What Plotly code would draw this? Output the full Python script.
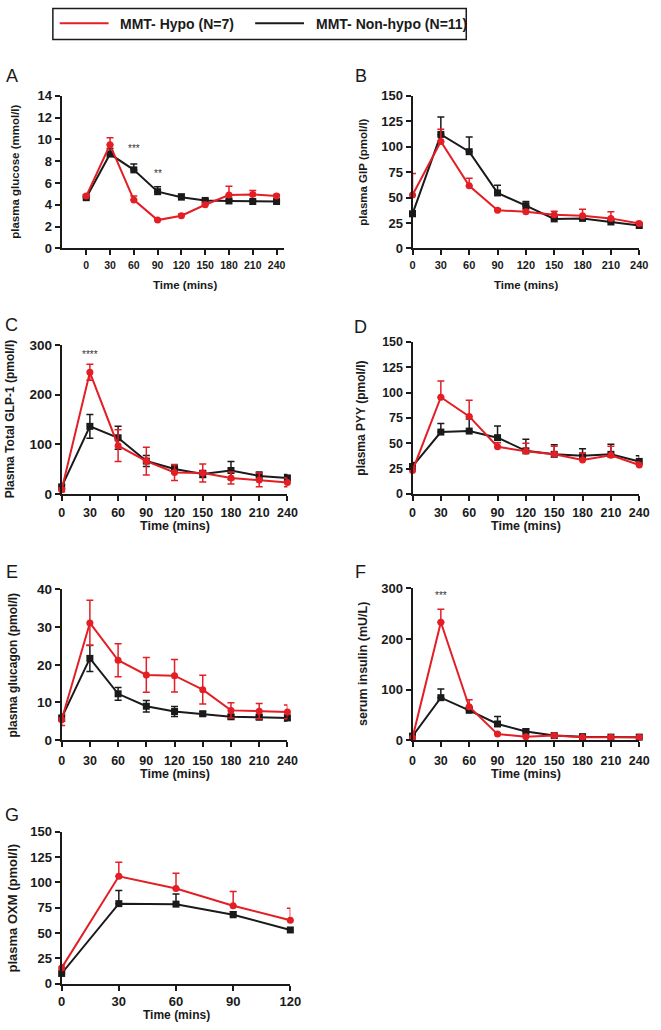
import plotly.graph_objects as go

W, H = 661, 1030
RED = "#e31e25"
BLK = "#1a1a1a"
FONT = "Liberation Sans, Arial, sans-serif"

# ---------------- data ----------------
time_long = [0, 30, 60, 90, 120, 150, 180, 210, 240]
time_oxm = [0, 30, 60, 90, 120]

glucose_hypo = [4.8, 9.5, 4.45, 2.6, 3.0, 4.0, 4.9, 4.95, 4.8]
glucose_hypo_err = [0.15, 0.65, 0.35, 0.1, 0.15, 0.2, 0.8, 0.35, 0.15]
glucose_non = [4.65, 8.65, 7.2, 5.2, 4.7, 4.4, 4.35, 4.3, 4.3]
glucose_non_err = [0.1, 0.5, 0.55, 0.45, 0.3, 0.1, 0.1, 0.1, 0.1]

gip_hypo = [52.5, 105, 61.5, 37.5, 36.0, 33.0, 32.0, 29.5, 24.5]
gip_hypo_err = [21, 12, 7.5, 1.5, 2.0, 3.5, 6.5, 6.5, 2.0]
gip_non = [34, 112, 95, 54.5, 42, 29, 29.5, 26, 22.5]
gip_non_err = [3, 17, 14.5, 7.5, 4, 2, 2, 2, 1.5]

glp1_hypo = [8, 245, 97, 66, 43, 42, 32, 28, 23]
glp1_hypo_err = [4, 16, 32, 28, 16, 18, 12, 14, 9]
glp1_non = [14, 136, 113, 66, 50, 40, 47, 36, 32]
glp1_non_err = [4, 24, 23, 11, 8, 7, 18, 8, 7]

pyy_hypo = [23, 95.5, 76.5, 46.5, 42, 39, 33.5, 38, 28.5]
pyy_hypo_err = [3, 16, 16, 4, 8, 8, 6.5, 9, 3]
pyy_non = [27, 61, 62, 55.5, 42.5, 39, 37.5, 39, 32]
pyy_non_err = [4, 8.5, 12, 11.5, 11.5, 9.5, 7, 10, 5.5]

glucagon_hypo = [5.4, 31.1, 21.2, 17.3, 17.1, 13.4, 7.9, 7.7, 7.5]
glucagon_hypo_err = [1.5, 6.0, 4.4, 4.6, 4.3, 3.8, 2.0, 2.0, 1.8]
glucagon_non = [5.9, 21.7, 12.3, 9.0, 7.6, 7.0, 6.2, 6.1, 5.9]
glucagon_non_err = [0.9, 3.5, 1.7, 1.5, 1.3, 0.6, 0.5, 0.6, 0.8]

insulin_hypo = [5, 233, 66, 12, 7, 9, 6, 6, 6]
insulin_hypo_err = [2, 26, 14, 2, 1, 2, 1, 1, 1]
insulin_non = [8, 84, 59, 32, 17, 9, 7, 6, 6]
insulin_non_err = [2, 17, 5, 15, 5, 2, 1, 1, 1]

oxm_hypo = [15.5, 106, 94, 77, 62.5]
oxm_hypo_err = [3, 14, 15, 14, 12]
oxm_non = [10, 79, 78.5, 68, 53]
oxm_non_err = [2, 13, 10, 3, 2]

y_titles = ["plasma glucose (mmol/l)", "plasma GIP (pmol/l)",
            "Plasma Total GLP-1 (pmol/l)", "plasma PYY (pmol/l)",
            "plasma glucagon (pmol/l)", "serum insulin (mU/L)",
            "plasma OXM (pmol/l)"]
panel_letters = ["A", "B", "C", "D", "E", "F", "G"]
x_title = "Time (mins)"
legend_labels = ["MMT- Hypo (N=7)", "MMT- Non-hypo (N=11)"]

# significance marks: (panel index, x, y, text)
sig_marks = [(0, 60, 9.2, "***"), (0, 90, 6.9, "**"),
             (2, 30, 280, "****"), (5, 30, 285, "***")]

# ---------------- layout helpers ----------------
def px(x):
    return x / W

def py(y):
    return 1 - y / H

# panel geometry in pixels: (x0, x1, ytop, ybottom)
geom = [
    (59, 287, 90, 245),
    (418, 650, 90, 245),
    (59, 290, 343, 494),
    (418, 650, 340, 494),
    (59, 290, 591, 744),
    (418, 650, 590, 744),
    (59, 293, 837, 991),
]
xranges = [[-31, 250], [0, 240], [0, 240], [0, 240], [0, 240], [0, 240], [0, 120]]
yranges = [[0, 14], [0, 150], [0, 300], [0, 150], [0, 40], [0, 300], [0, 150]]
ydticks = [2, 25, 100, 25, 10, 100, 25]
symmetric_err = [False, False, True, False, True, False, False]
letter_pos = [(8, 70), (365, 70), (8, 323), (365, 325), (8, 573), (365, 573), (8, 820)]
ytitle_x = [11, 367, 7, 365, 9, 368, 9]
xtitle_y = [282, 282, 527, 527, 778, 778, 1023]
ytick_sizes = [13, 13, 13.5, 12.5, 13.5, 13, 13]
xtick_sizes = [10.5, 11, 12.5, 12.5, 12.5, 12.5, 13]
xtick_standoff = [1, 0, 1, 1, 3, 3, 0]
ytitle_sizes = [11.5, 11.5, 12, 12, 12, 12.5, 13]
xtitle_sizes = [11.5, 11.5, 12.5, 12.5, 12.5, 12.5, 12]

panels = [
    (time_long, glucose_hypo, glucose_hypo_err, glucose_non, glucose_non_err),
    (time_long, gip_hypo, gip_hypo_err, gip_non, gip_non_err),
    (time_long, glp1_hypo, glp1_hypo_err, glp1_non, glp1_non_err),
    (time_long, pyy_hypo, pyy_hypo_err, pyy_non, pyy_non_err),
    (time_long, glucagon_hypo, glucagon_hypo_err, glucagon_non, glucagon_non_err),
    (time_long, insulin_hypo, insulin_hypo_err, insulin_non, insulin_non_err),
    (time_oxm, oxm_hypo, oxm_hypo_err, oxm_non, oxm_non_err),
]

fig = go.Figure()
layout = dict(
    width=W, height=H,
    margin=dict(l=0, r=0, t=0, b=0),
    paper_bgcolor="white", plot_bgcolor="white",
    showlegend=False,
    font=dict(family=FONT, color=BLK),
)
annotations = []
shapes = []

for i, (t, h, he, n, ne) in enumerate(panels):
    k = "" if i == 0 else str(i + 1)
    xa, ya = "x" + k, "y" + k
    x0, x1, yt, yb = geom[i]

    def err(e):
        if symmetric_err[i]:
            return dict(type="data", array=e, visible=True, thickness=1.5, width=3.5)
        return dict(type="data", array=e, arrayminus=[0] * len(e), symmetric=False,
                    visible=True, thickness=1.5, width=3.5)

    for vals, e, col, sym in [(n, ne, BLK, "square"), (h, he, RED, "circle")]:
        ed = err(e)
        ed["color"] = col
        fig.add_trace(go.Scatter(
            x=t, y=vals, xaxis=xa, yaxis=ya, mode="lines+markers",
            line=dict(color=col, width=2),
            marker=dict(color=col, symbol=sym, size=7),
            error_y=ed, cliponaxis=False))

    layout["xaxis" + k] = dict(
        domain=[px(x0), px(x1)], anchor=ya, range=xranges[i],
        tickmode="array", tickvals=t, ticktext=[str(v) for v in t],
        showline=True, linecolor=BLK, linewidth=2, ticks="outside", ticklen=5,
        tickwidth=2, tickcolor=BLK, showgrid=False, zeroline=False,
        ticklabelstandoff=xtick_standoff[i],
        tickfont=dict(family=FONT, size=xtick_sizes[i], color=BLK, weight="bold"),
        fixedrange=True)
    layout["yaxis" + k] = dict(
        domain=[py(yb), py(yt)], anchor=xa, range=yranges[i], dtick=ydticks[i],
        tick0=0, showline=True, linecolor=BLK, linewidth=2, ticks="outside",
        ticklen=5, tickwidth=2, tickcolor=BLK, showgrid=False, zeroline=False,
        tickfont=dict(family=FONT, size=ytick_sizes[i], color=BLK, weight="bold"),
        fixedrange=True)

    lx, ly = letter_pos[i]
    annotations.append(dict(text=panel_letters[i], x=px(lx), y=py(ly), xref="paper",
                            yref="paper", showarrow=False, xanchor="center",
                            yanchor="middle", font=dict(family=FONT, size=18, color=BLK)))
    annotations.append(dict(text=y_titles[i], x=px(ytitle_x[i]), y=py((yt + yb) / 2),
                            xref="paper", yref="paper", showarrow=False, textangle=-90,
                            xanchor="center", yanchor="middle",
                            font=dict(family=FONT, size=ytitle_sizes[i], color=BLK,
                                      weight="bold")))
    annotations.append(dict(text=x_title, x=px(x0 + (x1 - x0) * 0.5 + (12 if i == 0 else 0)),
                            y=py(xtitle_y[i]), xref="paper", yref="paper",
                            showarrow=False, xanchor="center", yanchor="middle",
                            font=dict(family=FONT, size=xtitle_sizes[i], color=BLK,
                                      weight="bold")))

for (pi, sx, sy, txt) in sig_marks:
    k = "" if pi == 0 else str(pi + 1)
    annotations.append(dict(text=txt, x=sx, y=sy, xref="x" + k, yref="y" + k,
                            showarrow=False, xanchor="center", yanchor="middle",
                            font=dict(family=FONT, size=10, color="#333333")))

# legend box
shapes.append(dict(type="rect", xref="paper", yref="paper", x0=px(50), x1=px(473),
                   y0=py(33), y1=py(1.5), line=dict(color=BLK, width=1.5)))
for (lx0, lx1, tx, col, lab) in [(57, 107, 117, RED, legend_labels[0]),
                                 (257, 307, 317, BLK, legend_labels[1])]:
    shapes.append(dict(type="line", xref="paper", yref="paper", x0=px(lx0), x1=px(lx1),
                       y0=py(16.5), y1=py(16.5), line=dict(color=col, width=2)))
    annotations.append(dict(text=lab, x=px(tx), y=py(17), xref="paper", yref="paper",
                            showarrow=False, xanchor="left", yanchor="middle",
                            font=dict(family=FONT, size=14, color=BLK, weight="bold")))

layout["annotations"] = annotations
layout["shapes"] = shapes
fig.update_layout(**layout)
fig.write_html("out.html", config={"displayModeBar": False},
               post_script="document.body.style.margin='0';document.body.style.overflow='hidden';")
